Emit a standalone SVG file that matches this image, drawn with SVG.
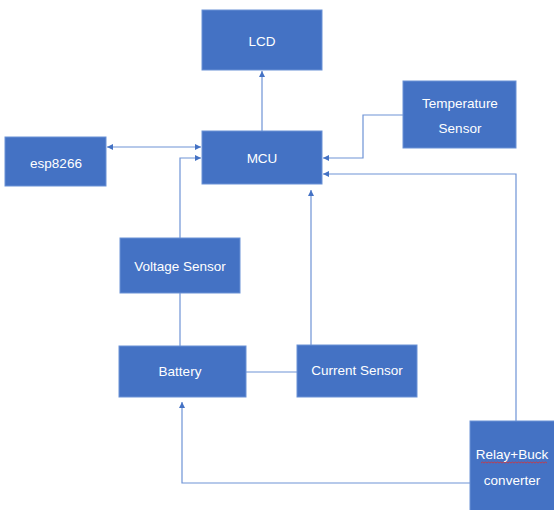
<svg xmlns="http://www.w3.org/2000/svg" width="554" height="510" viewBox="0 0 554 510">
<defs>
<style>
.box{fill:#4472C4;stroke:#6A92D6;stroke-width:1}
.lbl{fill:#ffffff;font-family:"Liberation Sans",Arial,sans-serif;font-size:13.5px;text-anchor:middle;dominant-baseline:central}
.wire{fill:none;stroke:#6E93D6;stroke-width:1.2}
</style>
<marker id="ah" viewBox="0 0 10 10" refX="10" refY="5" markerWidth="6" markerHeight="6" orient="auto-start-reverse" markerUnits="userSpaceOnUse">
<path d="M0,0 L10,5 L0,10 z" fill="#4472C4"/>
</marker>
</defs>
<rect width="554" height="510" fill="#ffffff"/>
<g id="connectors">
<path class="wire" d="M262,131 V71" marker-end="url(#ah)"/>
<path class="wire" d="M107,147 H201" marker-start="url(#ah)" marker-end="url(#ah)"/>
<path class="wire" d="M180,238 V158 H201" marker-end="url(#ah)"/>
<path class="wire" d="M180,346 V293"/>
<path class="wire" d="M311,345 V190" marker-end="url(#ah)"/>
<path class="wire" d="M403,115 H363 V158 H323" marker-end="url(#ah)"/>
<path class="wire" d="M516,421 V174 H323" marker-end="url(#ah)"/>
<path class="wire" d="M470,483 H182 V402" marker-end="url(#ah)"/>
<path class="wire" d="M246,372 H297"/>
</g>
<g id="lcd"><rect class="box" x="202" y="10" width="120" height="60"/><text class="lbl" x="262" y="41">LCD</text></g>
<g id="mcu"><rect class="box" x="202" y="131" width="120" height="53"/><text class="lbl" x="262" y="158">MCU</text></g>
<g id="esp8266"><rect class="box" x="5" y="137" width="101" height="49"/><text class="lbl" x="56" y="163">esp8266</text></g>
<g id="temp"><rect class="box" x="403" y="81" width="113" height="67"/><text class="lbl" x="460" y="103">Temperature</text><text class="lbl" x="460" y="128">Sensor</text></g>
<g id="voltage"><rect class="box" x="120" y="238" width="120" height="55"/><text class="lbl" x="180" y="266">Voltage Sensor</text></g>
<g id="battery"><rect class="box" x="119" y="346" width="127" height="51"/><text class="lbl" x="180" y="371">Battery</text></g>
<g id="current"><rect class="box" x="297" y="345" width="120" height="52"/><text class="lbl" x="357" y="370">Current Sensor</text></g>
<g id="relay"><rect class="box" x="470" y="421" width="90" height="95"/><text class="lbl" x="512" y="454">Relay+Buck</text><text class="lbl" x="512" y="480">converter</text>
<path d="M481,463 l1.5,-1 l1.5,1 l1.5,-1 l1.5,1 l1.5,-1 l1.5,1 l1.5,-1 l1.5,1 l1.5,-1 l1.5,1 l1.5,-1 l1.5,1 l1.5,-1 l1.5,1 l1.5,-1 l1.5,1 l1.5,-1 l1.5,1 l1.5,-1 l1.5,1 l1.5,-1 l1.5,1 l1.5,-1 l1.5,1 l1.5,-1 l1.5,1 l1.5,-1 l1.5,1 l1.5,-1 l1.5,1 l1.5,-1 l1.5,1 l1.5,-1 l1.5,1 l1.5,-1 l1.5,1 l1.5,-1 l1.5,1 l1.5,-1 l1.5,1 l1.5,-1 l1.5,1 l1.5,-1 l1.5,1" fill="none" stroke="#E03030" stroke-width="0.8"/></g>
</svg>
